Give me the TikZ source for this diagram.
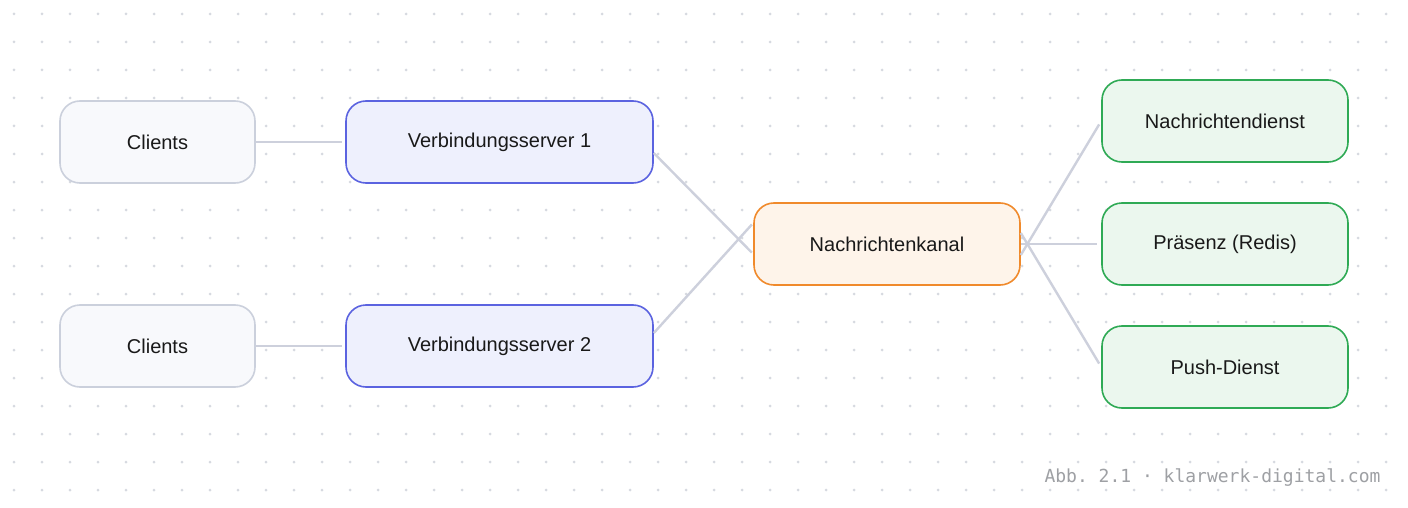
\documentclass[tikz,border=0pt]{standalone}
\usepackage{fontspec}
\setmainfont{Liberation Sans}
\setmonofont{DejaVu Sans Mono}
\begin{document}
\begin{tikzpicture}[x=1pt,y=-1pt,
  box/.style={draw,rounded corners=20pt,line width=1.6pt,minimum height=82pt,font=\fontsize{20}{24}\selectfont,text=black!90},
  gray/.style={box,fill=gfill,draw=gdraw,minimum width=195pt},
  blue/.style={box,fill=bfill,draw=bdraw,minimum width=307pt},
  orange/.style={box,fill=ofill,draw=odraw,minimum width=266pt},
  green/.style={box,fill=nfill,draw=ndraw,minimum width=246pt},
  conn/.style={draw=lcol,line width=2.4pt}]
\definecolor{gfill}{HTML}{F8F9FC}\definecolor{gdraw}{HTML}{CBD0DC}
\definecolor{bfill}{HTML}{EEF0FD}\definecolor{bdraw}{HTML}{5B63E0}
\definecolor{ofill}{HTML}{FEF4EA}\definecolor{odraw}{HTML}{F08A2C}
\definecolor{nfill}{HTML}{EBF7EE}\definecolor{ndraw}{HTML}{2FAA55}
\definecolor{lcol}{HTML}{CDD0DC}\definecolor{dotc}{HTML}{D6D9E0}
\useasboundingbox (0,0) rectangle (1408,508);
\fill[white] (0,0) rectangle (1408,508);
\foreach \i in {0,...,49}{\foreach \j in {0,...,17}{\fill[dotc] (14+28*\i,14+28*\j) circle (1.5pt);}}
\node[gray] (c1) at (157.5,142) {Clients};
\node[gray] (c2) at (157.5,346) {Clients};
\node[blue] (v1) at (499.5,142) {Verbindungsserver 1};
\node[blue] (v2) at (499.5,346) {Verbindungsserver 2};
\node[orange] (k) at (887,244) {Nachrichtenkanal};
\node[green] (n) at (1225,121) {Nachrichtendienst};
\node[green] (p) at (1225,244) {Präsenz (Redis)};
\node[green] (d) at (1225,367) {Push-Dienst};
\draw[conn,shorten >=3pt] (c1.east) -- (v1.west);
\draw[conn,shorten >=3pt] (c2.east) -- (v2.west);
\draw[conn,shorten >=2pt] ([yshift=-11pt]v1.east) -- ([yshift=-10pt]k.west);
\draw[conn,shorten >=2pt] ([yshift=13pt]v2.east) -- ([yshift=21pt]k.west);
\draw[conn,shorten >=4pt] ([yshift=-11pt]k.east) -- (n.west);
\draw[conn,shorten >=4pt] (k.east) -- (p.west);
\draw[conn,shorten >=4pt] ([yshift=11pt]k.east) -- (d.west);
\node[anchor=east,font=\ttfamily\fontsize{18}{22}\selectfont,text=gdraw!40!gray] (f) at (1384,478) {Abb. 2.1 · klarwerk-digital.com};
\end{tikzpicture}
\end{document}
